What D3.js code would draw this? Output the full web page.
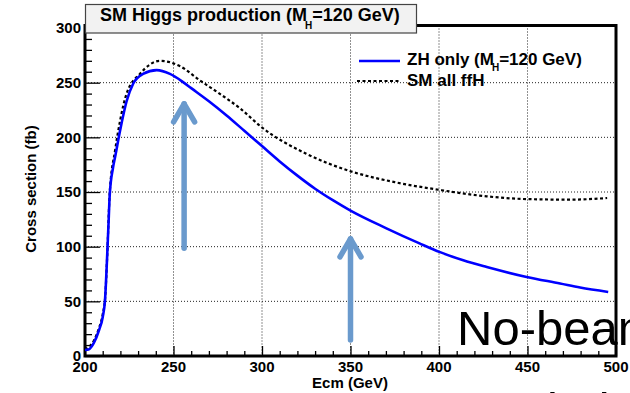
<!DOCTYPE html>
<html>
<head>
<meta charset="utf-8">
<script src="https://cdn.jsdelivr.net/npm/d3@7"></script>
<style>
  html, body { margin: 0; padding: 0; background: #fff; overflow: hidden; }
  svg { display: block; font-family: "Liberation Sans", Arial, sans-serif; }
</style>
</head>
<body>
<svg id="chart" width="630" height="393"></svg>
<script>
// data
const zhEcm = [200, 202, 205, 208, 210, 211.3, 212.4, 213.2, 214, 215.8, 217, 219.8, 223.5, 227.2, 232.8, 240.5, 248, 255, 260, 270, 280, 290, 300, 310, 320, 330, 340, 350, 370, 389, 400.6, 413.7, 427, 449.5, 468.4, 479.7, 495.6];
const zhXsec = [5.5, 6, 12, 24, 35.5, 51, 87, 117.5, 148, 172, 182, 206, 233, 249, 258, 261.5, 258, 251, 245, 233, 220, 206, 192, 178, 165, 153, 142.5, 133, 117, 103, 95, 87.5, 81.4, 72.3, 66.3, 62.6, 58.6];
const smEcm = [200, 202, 205, 208, 210, 211.5, 212.5, 214, 217, 219.8, 223.5, 231, 242.4, 253.7, 265, 276, 288, 300, 325, 350, 375, 400, 427, 450, 474, 495];
const smXsec = [6, 8, 14, 26, 38, 56, 90, 150, 188, 215, 240, 258, 270, 265, 252, 240, 226, 209, 185, 169, 159, 152, 146, 143.5, 143, 144.5];
const xTicks = [200, 250, 300, 350, 400, 450, 500];
const yTicks = [0, 50, 100, 150, 200, 250, 300];
// annotation arrows (ecm, tip, tail)
const arrowEcm = [256, 350];
const arrowTip = [232.5, 109];
const arrowTail = [98.5, 14.6];

const svg = d3.select("#chart");
const x = d3.scaleLinear().domain([200, 500]).range([85, 616]);
const y = d3.scaleLinear().domain([0, 302.3]).range([356, 25.5]);

// grid
const grid = svg.append("g").attr("stroke", "#222").attr("stroke-width", 1).attr("stroke-dasharray", "1,2");
grid.selectAll("line.v").data(xTicks.slice(1, -1)).enter().append("line")
    .attr("x1", d => x(d)).attr("x2", d => x(d))
    .attr("y1", y.range()[1]).attr("y2", y.range()[0]);
grid.selectAll("line.h").data(yTicks.slice(1, -1)).enter().append("line")
    .attr("x1", x.range()[0]).attr("x2", x.range()[1])
    .attr("y1", d => y(d)).attr("y2", d => y(d));

// axes with ROOT style inward ticks
const yAxis = svg.append("g").attr("transform", `translate(${x.range()[0]},0)`)
    .call(d3.axisRight(y).tickValues(d3.range(0, 301, 10)).tickSize(7).tickFormat(""));
yAxis.selectAll(".tick line").filter(d => d % 50 === 0).attr("x2", 15);
const xAxis = svg.append("g").attr("transform", `translate(0,${y.range()[0]})`)
    .call(d3.axisTop(x).tickValues(d3.range(200, 501, 10)).tickSize(5).tickFormat(""));
xAxis.selectAll(".tick line").filter(d => d % 50 === 0).attr("y2", -10);
svg.selectAll(".domain").remove();
svg.selectAll(".tick line").attr("stroke", "#000").attr("stroke-width", 1.3);

// frame
svg.append("rect")
    .attr("x", x.range()[0]).attr("y", y.range()[1])
    .attr("width", x.range()[1] - x.range()[0]).attr("height", y.range()[0] - y.range()[1])
    .attr("fill", "none").attr("stroke", "#000").attr("stroke-width", 3);

// tick labels
svg.append("g").selectAll("text").data(yTicks).enter().append("text")
    .attr("x", 81).attr("y", d => y(d)).attr("dy", "0.36em")
    .attr("text-anchor", "end").attr("font-weight", "bold").attr("font-size", 15)
    .text(d => d);
svg.append("g").selectAll("text").data(xTicks).enter().append("text")
    .attr("x", d => x(d)).attr("y", 372)
    .attr("text-anchor", "middle").attr("font-weight", "bold").attr("font-size", 15)
    .text(d => d);

// axis titles
svg.append("text")
    .attr("transform", "translate(36,189) rotate(-90)")
    .attr("text-anchor", "middle").attr("font-weight", "bold").attr("font-size", 15)
    .text("Cross section (fb)");
svg.append("text")
    .attr("x", 350).attr("y", 388)
    .attr("text-anchor", "middle").attr("font-weight", "bold").attr("font-size", 15)
    .text("Ecm (GeV)");

// curves
const line = (xs, ys) => d3.line().x((d, i) => x(xs[i])).y((d, i) => y(ys[i])).curve(d3.curveMonotoneX)(xs);
svg.append("path").attr("d", line(smEcm, smXsec))
    .attr("fill", "none").attr("stroke", "#000").attr("stroke-width", 2.2).attr("stroke-dasharray", "3,2.5");
svg.append("path").attr("d", line(zhEcm, zhXsec))
    .attr("fill", "none").attr("stroke", "#0000ff").attr("stroke-width", 2.6);

// legend
svg.append("line").attr("x1", 359).attr("x2", 400).attr("y1", 61).attr("y2", 61)
    .attr("stroke", "#0000ff").attr("stroke-width", 2.6);
svg.append("line").attr("x1", 357).attr("x2", 399).attr("y1", 81).attr("y2", 81)
    .attr("stroke", "#000").attr("stroke-width", 2.2).attr("stroke-dasharray", "3,2.5");
const leg1 = svg.append("text").attr("x", 407).attr("y", 65).attr("font-weight", "bold").attr("font-size", 17);
leg1.append("tspan").text("ZH only (M");
leg1.append("tspan").attr("font-size", 10).attr("dx", -2).attr("dy", 6).text("H");
leg1.append("tspan").attr("dy", -6).text("=120 GeV)");
svg.append("text").attr("x", 407).attr("y", 86).attr("font-weight", "bold").attr("font-size", 17)
    .text("SM all ffH");

// title box
svg.append("rect").attr("x", 85.5).attr("y", 4.5).attr("width", 331).attr("height", 28.5)
    .attr("fill", "#f2f2f2").attr("stroke", "#444").attr("stroke-width", 1.2);
const title = svg.append("text").attr("x", 100).attr("y", 21).attr("font-weight", "bold").attr("font-size", 18);
title.append("tspan").text("SM Higgs production (M");
title.append("tspan").attr("font-size", 10).attr("dx", -2).attr("dy", 8).text("H");
title.append("tspan").attr("dy", -8).text("=120 GeV)");

// arrows
const arrowColor = "#6a9acd";
const arrows = svg.append("g").attr("stroke", arrowColor).attr("stroke-width", 5.5)
    .attr("fill", "none").attr("stroke-linecap", "round").attr("stroke-linejoin", "round");
arrowEcm.forEach((e, i) => {
    const ax = x(e), t = y(arrowTip[i]), b = y(arrowTail[i]);
    arrows.append("line").attr("x1", ax).attr("x2", ax).attr("y1", b).attr("y2", t + 2);
    arrows.append("path").attr("d", d3.line()([[ax - 10.5, t + 20], [ax, t + 2], [ax + 10.5, t + 20]]));
});

// overlapping slide text
svg.append("text").attr("x", 457).attr("y", 345).attr("font-size", 49).attr("fill", "#000")
    .text("No-beamstrahlung");
svg.append("text").attr("x", 547).attr("y", 427).attr("font-size", 49).attr("fill", "#000")
    .text("in initial");
</script>
</body>
</html>
